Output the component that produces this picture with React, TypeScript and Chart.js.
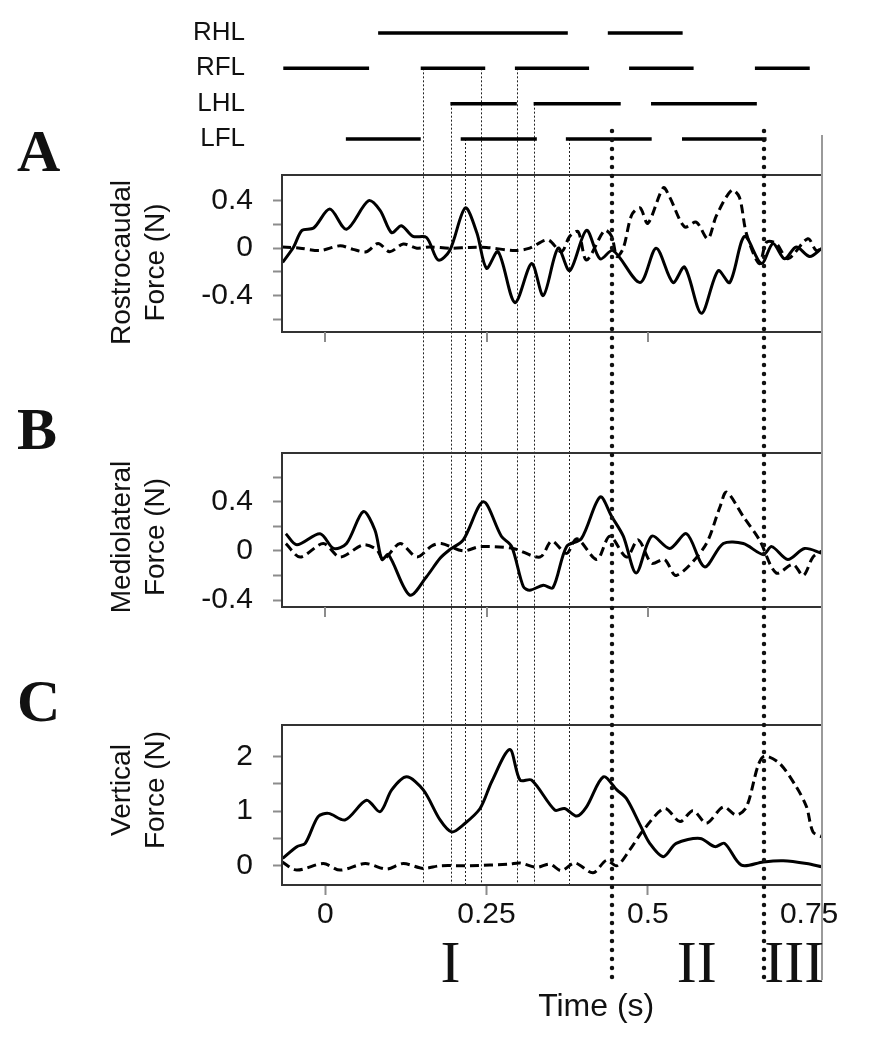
import React, { useEffect, useRef } from 'react';
import { Chart, registerables } from 'chart.js';

Chart.register(...registerables);

const SANS = '"Liberation Sans", Arial, Helvetica, sans-serif';
const SERIF = '"Liberation Serif", "Times New Roman", serif';
const INK = '#111';
const TICK_GRAY = '#8c8c8c';
const PLOT_LEFT = 282;

// ---------- time axis ----------
const timeMin = -0.067;
const timeMax = 0.77;
const timeTicks = [0, 0.25, 0.5, 0.75];
const timeTickLabels = ['0', '0.25', '0.5', '0.75'];

// ---------- gait diagram (stance phases, s) ----------
const limbNames = ['RHL', 'RFL', 'LHL', 'LFL'];
const limbRows = [1, 2, 3, 4];
const rhlStance = [[0.082, 0.376], [0.438, 0.554]];
const rflStance = [[-0.065, 0.068], [0.148, 0.248], [0.294, 0.409], [0.471, 0.571], [0.666, 0.751]];
const lhlStance = [[0.194, 0.297], [0.323, 0.458], [0.505, 0.669]];
const lflStance = [[0.032, 0.148], [0.21, 0.328], [0.373, 0.506], [0.553, 0.684]];

// footfall events (thin dotted lines) and the row they start from
const eventTimes = [0.152, 0.195, 0.216, 0.241, 0.297, 0.323, 0.378];
const eventRows = [2, 3, 4, 2, 2, 3, 4];
// phase boundaries (thick dotted lines) and phase labels
const phaseBoundaries = [0.445, 0.68];
const phaseLabels = ['I', 'II', 'III'];
const phaseLabelTimes = [0.194, 0.576, 0.727];

// ---------- panel titles ----------
const panelLetters = ['A', 'B', 'C'];
const panelTitles = [['Rostrocaudal', 'Force (N)'], ['Mediolateral', 'Force (N)'], ['Vertical', 'Force (N)']];
const panelTitleShift = [9, 7, -15];

// ---------- A: rostrocaudal force (N) ----------
const rcTicks = [-0.6, -0.4, -0.2, 0, 0.2, 0.4];
const rcLabeled = [-0.4, 0, 0.4];
const rcSolidTime = [-0.066, -0.049, -0.036, -0.018, 0.007, 0.033, 0.067, 0.085, 0.103, 0.118, 0.136, 0.157, 0.175, 0.193, 0.217, 0.235, 0.25, 0.268, 0.294, 0.32, 0.338, 0.361, 0.379, 0.405, 0.426, 0.446, 0.488, 0.513, 0.539, 0.557, 0.583, 0.609, 0.627, 0.65, 0.676, 0.694, 0.712, 0.73, 0.751, 0.77];
const rcSolidForce = [-0.12, 0.01, 0.15, 0.17, 0.33, 0.16, 0.4, 0.32, 0.13, 0.19, 0.1, 0.09, -0.1, -0.02, 0.34, 0.13, -0.17, -0.03, -0.46, -0.13, -0.4, 0.0, -0.19, 0.15, -0.09, -0.02, -0.29, 0.0, -0.29, -0.16, -0.55, -0.19, -0.29, 0.1, -0.13, 0.04, -0.09, 0.01, -0.07, 0.0];
const rcDashTime = [-0.067, -0.039, -0.008, 0.023, 0.043, 0.064, 0.082, 0.1, 0.121, 0.142, 0.162, 0.193, 0.224, 0.25, 0.294, 0.317, 0.345, 0.366, 0.379, 0.392, 0.405, 0.433, 0.444, 0.452, 0.462, 0.475, 0.488, 0.5, 0.524, 0.534, 0.557, 0.575, 0.593, 0.606, 0.63, 0.642, 0.653, 0.673, 0.684, 0.699, 0.717, 0.748, 0.761, 0.77];
const rcDashForce = [0.01, 0, -0.02, 0.02, -0.01, -0.03, 0.04, -0.03, 0.035, 0, 0.01, 0, 0.006, 0.006, -0.02, 0, 0.07, -0.03, 0.1, 0.14, -0.1, 0.15, 0.1, -0.07, 0, 0.28, 0.34, 0.21, 0.51, 0.43, 0.18, 0.22, 0.08, 0.27, 0.49, 0.43, 0.12, -0.13, 0.05, 0.04, -0.09, 0.08, -0.02, 0];

// ---------- B: mediolateral force (N) ----------
const mlTicks = [-0.4, -0.2, 0, 0.2, 0.4, 0.6];
const mlLabeled = [-0.4, 0, 0.4];
const mlSolidTime = [-0.061, -0.044, -0.008, 0.013, 0.033, 0.059, 0.077, 0.088, 0.098, 0.131, 0.157, 0.178, 0.193, 0.214, 0.245, 0.273, 0.289, 0.307, 0.317, 0.338, 0.353, 0.374, 0.397, 0.426, 0.444, 0.462, 0.482, 0.506, 0.534, 0.56, 0.588, 0.617, 0.648, 0.679, 0.692, 0.717, 0.743, 0.77];
const mlSolidForce = [0.14, 0.05, 0.14, 0.02, 0.06, 0.32, 0.17, -0.07, -0.03, -0.36, -0.21, -0.06, 0.01, 0.09, 0.4, 0.12, 0.035, -0.29, -0.32, -0.28, -0.3, 0.035, 0.1, 0.44, 0.28, 0.12, -0.18, 0.12, 0.02, 0.14, -0.13, 0.06, 0.06, -0.03, 0.035, -0.07, 0.02, -0.02];
const mlDashTime = [-0.061, -0.039, -0.003, 0.023, 0.059, 0.08, 0.09, 0.116, 0.142, 0.165, 0.18, 0.214, 0.24, 0.291, 0.333, 0.351, 0.374, 0.39, 0.421, 0.441, 0.467, 0.485, 0.506, 0.526, 0.544, 0.588, 0.612, 0.622, 0.648, 0.673, 0.699, 0.725, 0.741, 0.756, 0.77];
const mlDashForce = [0.06, -0.05, 0.06, -0.05, 0.05, 0.01, -0.07, 0.06, -0.05, 0.04, 0.06, 0.0, 0.035, 0.02, -0.05, 0.08, -0.02, 0.1, -0.07, 0.12, -0.05, 0.09, -0.1, -0.07, -0.2, 0.035, 0.36, 0.48, 0.28, 0.09, -0.18, -0.11, -0.2, -0.05, 0.0];

// ---------- C: vertical force (N) ----------
const vtTicks = [0, 0.5, 1, 1.5, 2];
const vtLabeled = [0, 1, 2];
const vtSolidTime = [-0.066, -0.044, -0.031, -0.011, 0.005, 0.031, 0.064, 0.085, 0.103, 0.126, 0.152, 0.178, 0.196, 0.214, 0.24, 0.258, 0.286, 0.302, 0.32, 0.356, 0.371, 0.39, 0.405, 0.431, 0.452, 0.467, 0.488, 0.503, 0.524, 0.544, 0.581, 0.604, 0.619, 0.645, 0.679, 0.71, 0.746, 0.77];
const vtSolidForce = [0.135, 0.35, 0.41, 0.9, 0.96, 0.84, 1.2, 0.99, 1.39, 1.63, 1.39, 0.84, 0.62, 0.75, 1.05, 1.54, 2.13, 1.57, 1.57, 1.02, 1.05, 0.91, 1.08, 1.63, 1.39, 1.23, 0.75, 0.41, 0.165, 0.41, 0.5, 0.35, 0.41, 0.01, 0.07, 0.09, 0.04, -0.02];
const vtDashTime = [-0.067, -0.044, -0.003, 0.023, 0.062, 0.095, 0.121, 0.152, 0.178, 0.224, 0.286, 0.302, 0.328, 0.348, 0.366, 0.387, 0.415, 0.436, 0.452, 0.472, 0.493, 0.526, 0.55, 0.57, 0.591, 0.617, 0.637, 0.653, 0.671, 0.681, 0.704, 0.73, 0.746, 0.756, 0.77];
const vtDashForce = [0.07, -0.08, 0.04, -0.08, 0.04, -0.06, 0.04, -0.05, 0.0, 0.0, 0.03, 0.05, -0.03, 0.03, -0.09, 0.05, -0.13, 0.1, 0.0, 0.29, 0.65, 1.05, 0.81, 1.01, 0.78, 1.08, 0.93, 1.08, 1.84, 2.01, 1.88, 1.45, 1.08, 0.62, 0.53];

const fixBox = (axis: any) => {
  axis.width = PLOT_LEFT;
  axis.paddingTop = 0;
  axis.paddingBottom = 0;
  axis.paddingLeft = 0;
  axis.paddingRight = 0;
};

const overlayPlugin = {
  id: 'gaitOverlay',
  beforeDatasetsDraw(chart: any) {
    const { ctx, scales } = chart;
    const x = scales.x, g = scales.yGait, pc = scales.yC;
    ctx.save();
    ctx.strokeStyle = '#222';
    ctx.lineWidth = 1;
    ctx.setLineDash([2, 2]);
    eventTimes.forEach((t, i) => {
      const px = Math.round(x.getPixelForValue(t)) + 0.5;
      ctx.beginPath();
      ctx.moveTo(px, g.getPixelForValue(eventRows[i]));
      ctx.lineTo(px, pc.bottom);
      ctx.stroke();
    });
    ctx.restore();
  },
  afterDatasetsDraw(chart: any) {
    const { ctx, chartArea, scales } = chart;
    const x = scales.x, g = scales.yGait;
    const panels = [scales.yA, scales.yB, scales.yC];
    const pc = scales.yC;
    const lineTop = g.getPixelForValue(4) - 8;
    const lineBottom = pc.bottom + 95;
    ctx.save();
    // panel frames
    ctx.strokeStyle = '#333';
    ctx.lineWidth = 2;
    panels.forEach((s: any) => {
      ctx.strokeRect(chartArea.left, s.top, chartArea.right - chartArea.left, s.bottom - s.top);
    });
    // right gray edge running through the figure
    ctx.strokeStyle = '#9a9a9a';
    ctx.beginPath();
    ctx.moveTo(chartArea.right, lineTop + 4);
    ctx.lineTo(chartArea.right, lineBottom);
    ctx.stroke();
    // x tick marks under panels A and B
    ctx.strokeStyle = TICK_GRAY;
    ctx.lineWidth = 2;
    [scales.yA, scales.yB].forEach((s: any) => {
      timeTicks.slice(0, 3).forEach((t) => {
        const px = Math.round(x.getPixelForValue(t));
        ctx.beginPath();
        ctx.moveTo(px, s.bottom);
        ctx.lineTo(px, s.bottom + 10);
        ctx.stroke();
      });
    });
    // thick dotted phase boundaries
    ctx.strokeStyle = '#111';
    ctx.lineWidth = 4.5;
    ctx.lineCap = 'round';
    ctx.setLineDash([0, 9]);
    phaseBoundaries.forEach((t) => {
      const px = Math.round(x.getPixelForValue(t));
      ctx.beginPath();
      ctx.moveTo(px, lineTop);
      ctx.lineTo(px, lineBottom);
      ctx.stroke();
    });
    ctx.setLineDash([]);
    ctx.fillStyle = INK;
    // y-axis titles (two rotated lines per panel)
    ctx.font = `28px ${SANS}`;
    ctx.textAlign = 'center';
    ctx.textBaseline = 'middle';
    panels.forEach((s: any, i: number) => {
      const cy = (s.top + s.bottom) / 2 + panelTitleShift[i];
      panelTitles[i].forEach((line, j) => {
        ctx.save();
        ctx.translate(122 + j * 34, cy);
        ctx.rotate(-Math.PI / 2);
        ctx.fillText(line, 0, 0);
        ctx.restore();
      });
    });
    // panel letters
    ctx.textAlign = 'left';
    ctx.textBaseline = 'alphabetic';
    ctx.font = `bold 60px ${SERIF}`;
    panelLetters.forEach((L, i) => ctx.fillText(L, 17, panels[i].top - 4));
    // phase numerals
    ctx.textAlign = 'center';
    ctx.font = `60px ${SERIF}`;
    phaseLabels.forEach((L, i) => ctx.fillText(L, x.getPixelForValue(phaseLabelTimes[i]), pc.bottom + 97));
    // x-axis title
    ctx.font = `32px ${SANS}`;
    ctx.fillText('Time (s)', x.getPixelForValue(0.42), pc.bottom + 131);
    ctx.restore();
  },
};

const forceAxis = (
  min: number, max: number, ticks: number[], labeled: number[], weight: number, stackWeight: number,
) => ({
  type: 'linear',
  position: 'left',
  stack: 'panels',
  stackWeight,
  weight,
  min,
  max,
  afterBuildTicks: (axis: any) => { axis.ticks = ticks.map((v) => ({ value: v })); },
  afterFit: fixBox,
  ticks: {
    autoSkip: false,
    padding: 20,
    color: INK,
    font: { family: SANS, size: 30 },
    callback: (v: number) => (labeled.includes(v) ? String(v) : ''),
  },
  grid: { display: true, drawOnChartArea: false, drawTicks: true, tickLength: 9, tickColor: TICK_GRAY, tickWidth: 2 },
  border: { display: false },
});

const spacerAxis = (weight: number, stackWeight: number) => ({
  type: 'linear',
  position: 'left',
  stack: 'panels',
  stackWeight,
  weight,
  min: 0,
  max: 1,
  afterFit: fixBox,
  ticks: { display: false },
  grid: { display: false },
  border: { display: false },
});

export default function App() {
  const ref = useRef<HTMLCanvasElement>(null);

  useEffect(() => {
    const canvas = ref.current;
    if (!canvas) return;
    const xy = (ts: number[], vs: number[]) => ts.map((t, i) => ({ x: t, y: vs[i] }));
    const stance = (iv: number[][], row: number) => {
      const pts: any[] = [];
      iv.forEach(([s, e], i) => {
        if (i > 0) pts.push({ x: (iv[i - 1][1] + s) / 2, y: null });
        pts.push({ x: s, y: row }, { x: e, y: row });
      });
      return pts;
    };
    const gaitSets = [rhlStance, rflStance, lhlStance, lflStance].map((iv, i) => ({
      label: limbNames[i],
      data: stance(iv, limbRows[i]),
      yAxisID: 'yGait',
      borderColor: '#000',
      borderWidth: 3.5,
      borderCapStyle: 'butt',
      pointRadius: 0,
      tension: 0,
      spanGaps: false,
    }));
    const force = (label: string, ts: number[], vs: number[], axis: string, dashed: boolean) => ({
      label,
      data: xy(ts, vs),
      yAxisID: axis,
      borderColor: '#000',
      borderWidth: 3,
      borderDash: dashed ? [9, 5] : [],
      borderJoinStyle: 'round',
      pointRadius: 0,
      tension: 0.3,
      fill: false,
    });

    const chart = new Chart(canvas, {
      type: 'line',
      data: {
        datasets: [
          ...gaitSets,
          force('Rostrocaudal solid', rcSolidTime, rcSolidForce, 'yA', false),
          force('Rostrocaudal dashed', rcDashTime, rcDashForce, 'yA', true),
          force('Mediolateral solid', mlSolidTime, mlSolidForce, 'yB', false),
          force('Mediolateral dashed', mlDashTime, mlDashForce, 'yB', true),
          force('Vertical solid', vtSolidTime, vtSolidForce, 'yC', false),
          force('Vertical dashed', vtDashTime, vtDashForce, 'yC', true),
        ] as any,
      },
      options: {
        responsive: false,
        animation: false,
        events: [],
        layout: { padding: { top: 15, left: 0, right: 49, bottom: 0 } },
        plugins: { legend: { display: false }, tooltip: { enabled: false } },
        scales: {
          x: {
            type: 'linear',
            position: 'bottom',
            min: timeMin,
            max: timeMax,
            afterBuildTicks: (axis: any) => { axis.ticks = timeTicks.map((v) => ({ value: v })); },
            afterFit: (axis: any) => {
              axis.height = 165;
              axis.paddingLeft = 0;
              axis.paddingRight = 0;
              axis.paddingTop = 0;
              axis.paddingBottom = 0;
            },
            ticks: {
              autoSkip: false,
              maxRotation: 0,
              padding: 2,
              color: INK,
              font: { family: SANS, size: 30 },
              callback: (_v: any, i: number) => timeTickLabels[i],
            },
            grid: {
              display: true,
              drawOnChartArea: false,
              drawTicks: true,
              tickLength: 10,
              tickWidth: 2,
              tickColor: (c: any) => (c.tick && c.tick.value === 0.75 ? 'rgba(0,0,0,0)' : TICK_GRAY),
            },
            border: { display: false },
          },
          yGait: {
            type: 'linear',
            position: 'left',
            stack: 'panels',
            stackWeight: 160,
            weight: 6,
            reverse: true,
            min: 0.491,
            max: 5.019,
            afterBuildTicks: (axis: any) => { axis.ticks = limbRows.map((v) => ({ value: v })); },
            afterFit: fixBox,
            ticks: {
              autoSkip: false,
              padding: 29,
              color: INK,
              font: { family: SANS, size: 26 },
              callback: (_v: any, i: number) => limbNames[i],
            },
            grid: { display: false },
            border: { display: false },
          },
          yA: forceAxis(-0.708, 0.618, rcTicks, rcLabeled, 5, 157),
          gap1: spacerAxis(4, 121),
          yB: forceAxis(-0.457, 0.798, mlTicks, mlLabeled, 3, 154),
          gap2: spacerAxis(2, 118),
          yC: forceAxis(-0.353, 2.58, vtTicks, vtLabeled, 1, 160),
        } as any,
      },
      plugins: [overlayPlugin],
    } as any);

    return () => chart.destroy();
  }, []);

  return (
    <div style={{ position: 'absolute', left: 0, top: 0, width: 871, height: 1050, background: '#fff' }}>
      <canvas ref={ref} width={871} height={1050} style={{ display: 'block', width: 871, height: 1050 }} />
    </div>
  );
}
